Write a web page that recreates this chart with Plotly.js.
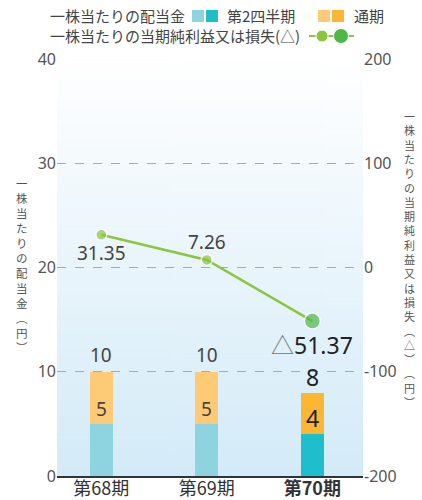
<!DOCTYPE html>
<html><head><meta charset="utf-8">
<script src="https://cdn.plot.ly/plotly-3.0.1.min.js"></script>
<style>html,body{margin:0;padding:0;background:#fff}#chart{width:422px;height:500px}</style>
</head><body><div id="chart"></div>
<script>
// ---- data ----
const categories = ['第68期', '第69期', '第70期'];
const dividendQ2 = [5, 5, 4];
const dividendAnnual = [10, 10, 8];
const netIncomePerShare = [31.35, 7.26, -51.37];
const leftTicks = [0, 10, 20, 30, 40];
const rightTicks = [-200, -100, 0, 100, 200];

// ---- styles ----
const FONT = 'Noto Sans, Noto Sans CJK JP, sans-serif';
const JP = 'Noto Sans CJK JP, Noto Sans, sans-serif';
const VT = 'Liberation Sans, Noto Sans CJK JP, sans-serif';
const cyanLight = '#8ed4e0', cyanDark = '#1fbecd';
const orangeLight = '#ffca75', orangeDark = '#fbb734';
const greenLight = '#8cc63f', greenDark = '#4bb848';
const W = 422, H = 500;
const M = {l: 57, r: 59, t: 59, b: 24};
const PW = W - M.l - M.r, PH = H - M.t - M.b;
const px = x => (x - M.l) / PW;
const py = y => 1 - (y - M.t) / PH;
const last = categories.length - 1;
const idx = categories.map((c, i) => i);

// gradient background image
const cv = document.createElement('canvas');
cv.width = 4; cv.height = 400;
const cx = cv.getContext('2d');
const g = cx.createLinearGradient(0, 0, 0, 400);
g.addColorStop(0, '#ffffff');
g.addColorStop(1, '#d3ebf8');
cx.fillStyle = g; cx.fillRect(0, 0, 4, 400);
const bgURL = cv.toDataURL('image/png');

const upper = dividendAnnual.map((v, i) => v - dividendQ2[i]);

const traces = [
  {type: 'bar', x: idx, y: dividendQ2, width: 0.218,
   marker: {color: idx.map(i => i === last ? cyanDark : cyanLight), line: {width: 0}},
   hoverinfo: 'skip', showlegend: false},
  {type: 'bar', x: idx, y: upper, width: 0.218,
   marker: {color: idx.map(i => i === last ? orangeDark : orangeLight), line: {width: 0}},
   hoverinfo: 'skip', showlegend: false},
  {type: 'scatter', mode: 'lines+markers', x: idx, y: netIncomePerShare, yaxis: 'y2',
   line: {color: greenLight, width: 2.5},
   marker: {color: idx.map(i => i === last ? greenDark : greenLight),
            size: idx.map(i => i === last ? 16 : 11),
            line: {color: '#ffffff', width: 1.5}},
   hoverinfo: 'skip', showlegend: false}
];

const annotations = [];
// bar labels
idx.forEach(i => {
  const isLast = i === last;
  annotations.push({x: i, y: dividendAnnual[i], xref: 'x', yref: 'y', text: String(dividendAnnual[i]),
    showarrow: false, yanchor: 'bottom', yshift: isLast ? -2 : 2,
    font: {family: FONT, size: isLast ? 23 : 19, color: isLast ? '#222' : '#444'}});
  annotations.push({x: i, y: dividendQ2[i], xref: 'x', yref: 'y', text: String(dividendQ2[i]),
    showarrow: false, yanchor: 'bottom', yshift: isLast ? -2 : 0,
    font: {family: FONT, size: isLast ? 23 : 19, color: isLast ? '#222' : '#444'}});
});
// line labels
const lineShift = [-18, 18, -24];
idx.forEach(i => {
  const v = netIncomePerShare[i];
  const isLast = i === last;
  const txt = v < 0
    ? '<span style="color:#777">△</span>' + Math.abs(v).toFixed(2)
    : v.toFixed(2);
  annotations.push({x: i, y: v, xref: 'x', yref: 'y2', text: txt, showarrow: false,
    yshift: lineShift[i], xanchor: 'center',
    font: {family: FONT, size: isLast ? 23 : 19, color: isLast ? '#222' : '#444'}});
});
// vertical axis titles (stacked characters)
function vtitle(str, xc, yc, size) {
  const t = Array.from(str).map(ch => ch === '(' ? '︵' : ch === ')' ? '︶' : ch).join('<br>');
  annotations.push({xref: 'paper', yref: 'paper', x: px(xc), y: py(yc),
    text: t, showarrow: false, xanchor: 'center', yanchor: 'middle', borderpad: 0,
    font: {family: VT, size: size, color: '#555'}});
}
vtitle('一株当たりの配当金(円)', 21.5, 266, 11.5);
vtitle('一株当たりの当期純利益又は損失(△)(円)', 409, 260, 11);

// legend
const legFont = {family: JP, size: 15, color: '#444'};
const legText = (t, x, y) => annotations.push({xref: 'paper', yref: 'paper', x: px(x), y: py(y),
  text: t, showarrow: false, xanchor: 'left', yanchor: 'middle', font: legFont});
legText('一株当たりの配当金', 48, 16);
legText('第2四半期', 225, 16);
legText('通期', 352, 16);
legText('一株当たりの当期純利益又は損失(△)', 48, 36);

const shapes = [];
const sq = (x0, col) => shapes.push({type: 'rect', xref: 'paper', yref: 'paper',
  x0: px(x0), x1: px(x0 + 12), y0: py(22), y1: py(10), fillcolor: col, line: {width: 0}});
sq(192, cyanLight); sq(206, cyanDark); sq(318, orangeLight); sq(332, orangeDark);
shapes.push({type: 'line', xref: 'paper', yref: 'paper', x0: px(309), x1: px(354), y0: py(36), y1: py(36),
  line: {color: greenLight, width: 2, dash: 'dash'}});
const dot = (xc, r, col) => shapes.push({type: 'circle', xref: 'paper', yref: 'paper',
  x0: px(xc - r), x1: px(xc + r), y0: py(36 + r), y1: py(36 - r), fillcolor: col, line: {color: '#fff', width: 1}});
dot(322, 6, greenLight); dot(341, 7.5, greenDark);

const layout = {
  width: W, height: H, margin: M,
  paper_bgcolor: '#ffffff', plot_bgcolor: 'rgba(0,0,0,0)',
  barmode: 'stack', showlegend: false,
  font: {family: FONT, color: '#555'},
  images: [{source: bgURL, xref: 'paper', yref: 'paper', x: 0, y: 1, sizex: 1, sizey: 1,
    sizing: 'stretch', xanchor: 'left', yanchor: 'top', layer: 'below'}],
  xaxis: {range: [-0.42, 2.48], tickvals: idx,
    ticktext: categories.map((c, i) => i === last ? '<b>' + c + '</b>' : c),
    tickfont: {family: JP, size: 18, color: '#333'}, ticklabelstandoff: -4,
    showline: true, linecolor: '#333', linewidth: 1.5, showgrid: false, zeroline: false, ticks: '',
    fixedrange: true},
  yaxis: {range: [0, 40], tickvals: leftTicks, showgrid: true, gridcolor: '#a9a9a9', griddash: 'dash',
    gridwidth: 1, zeroline: false, showline: false, ticks: '',
    tickfont: {family: FONT, size: 16, color: '#555'}, fixedrange: true},
  yaxis2: {range: [-200, 200], tickvals: rightTicks, ticktext: rightTicks.map(String),
    overlaying: 'y', side: 'right',
    showgrid: false, zeroline: false, showline: false, ticks: '',
    tickfont: {family: FONT, size: 16, color: '#555'}, fixedrange: true},
  annotations: annotations,
  shapes: shapes
};

Plotly.newPlot('chart', traces, layout, {displayModeBar: false, staticPlot: true});
</script></body></html>
